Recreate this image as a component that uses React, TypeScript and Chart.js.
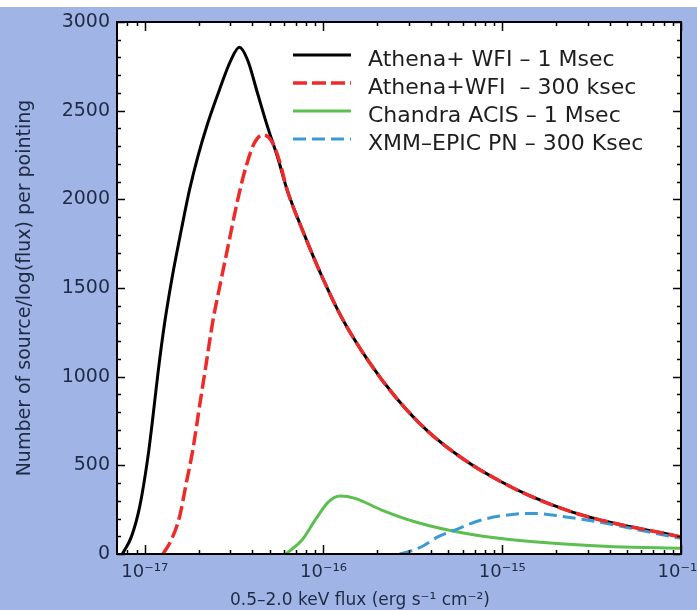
import React, { useEffect, useRef } from 'react';
import { Chart, registerables } from 'chart.js';

Chart.register(...registerables);

const FONT = '"DejaVu Sans", "Liberation Sans", sans-serif';
const AXIS_TEXT = '#1f2a44';
const LEGEND_TEXT = '#1e1e1e';
const PAGE_BG = '#a0b5e6';

// Axis ranges and ticks
const X_MIN = 7.26e-18;
const X_MAX = 1e-14;
const Y_MIN = 0;
const Y_MAX = 3000;
const X_TICK_VALUES = [1e-17, 1e-16, 1e-15, 1e-14];
const X_TICK_LABELS = ['10⁻¹⁷', '10⁻¹⁶', '10⁻¹⁵', '10⁻¹⁴'];
const Y_TICK_VALUES = [0, 500, 1000, 1500, 2000, 2500, 3000];
const Y_TICK_LABELS = ['0', '500', '1000', '1500', '2000', '2500', '3000'];

const X_TITLE = '0.5–2.0 keV flux (erg s⁻¹ cm⁻²)';
const Y_TITLE = 'Number of source/log(flux) per pointing';

const SERIES_LABELS = [
  'Athena+ WFI – 1 Msec',
  'Athena+WFI  – 300 ksec',
  'Chandra ACIS – 1 Msec',
  'XMM–EPIC PN – 300 Ksec',
];

// Athena+ WFI 1 Msec
const athena1MsFlux = [7.5e-18, 8.432e-18, 9.378e-18, 1.043e-17, 1.112e-17, 1.186e-17, 1.292e-17, 1.438e-17, 1.602e-17, 1.781e-17, 1.981e-17, 2.252e-17, 2.617e-17, 3.041e-17, 3.382e-17, 3.763e-17, 4.278e-17, 4.863e-17, 5.528e-17, 6.266e-17, 7.762e-17, 9.817e-17, 1.268e-16, 1.786e-16, 2.564e-16, 3.855e-16, 6.166e-16, 9.462e-16, 1.39e-15, 2.421e-15, 4.227e-15, 8.017e-15, 1e-14];
const athena1MsCount = [0, 98, 267, 549, 774, 1019, 1301, 1583, 1827, 2053, 2240, 2429, 2617, 2786, 2857, 2786, 2598, 2410, 2240, 2053, 1808, 1564, 1331, 1088, 878, 690, 530, 417, 333, 239, 173, 117, 96];

// Athena+ WFI 300 ksec
const athena300ksFlux = [1.265e-17, 1.408e-17, 1.567e-17, 1.708e-17, 1.858e-17, 2.025e-17, 2.207e-17, 2.402e-17, 2.675e-17, 2.975e-17, 3.311e-17, 3.687e-17, 4.101e-17, 4.561e-17, 5.08e-17, 5.651e-17, 6.266e-17, 7.762e-17, 9.817e-17, 1.268e-16, 1.786e-16, 2.564e-16, 3.855e-16, 6.166e-16, 9.462e-16, 1.39e-15, 2.421e-15, 4.227e-15, 8.017e-15, 1e-14];
const athena300ksCount = [0, 79, 210, 399, 586, 831, 1071, 1309, 1545, 1771, 1996, 2184, 2316, 2363, 2335, 2222, 2053, 1808, 1564, 1331, 1088, 878, 690, 530, 417, 333, 239, 173, 117, 96];

// Chandra ACIS 1 Msec
const chandraFlux = [6.18e-17, 6.397e-17, 7.586e-17, 8.995e-17, 1.069e-16, 1.242e-16, 1.503e-16, 2.118e-16, 3.243e-16, 4.977e-16, 7.638e-16, 1.17e-15, 2.223e-15, 4.227e-15, 1e-14];
const chandraCount = [0, 13, 79, 192, 295, 327, 314, 248, 182, 135, 102, 79, 56, 41, 32];

// XMM-EPIC PN 300 Ksec
const xmmFlux = [2.667e-16, 2.985e-16, 3.54e-16, 4.385e-16, 5.42e-16, 7.638e-16, 1.17e-15, 1.514e-15, 2.223e-15, 3.412e-15, 5.236e-15, 8.017e-15, 1e-14];
const xmmCount = [0, 13, 41, 98, 135, 192, 224, 229, 210, 182, 145, 107, 88];

const toPoints = (xs: number[], ys: number[]) => xs.map((x, i) => ({ x, y: ys[i] }));

const backgroundPlugin = {
  id: 'pageBackground',
  beforeDraw(chart: any) {
    const { ctx, width, height, chartArea } = chart;
    ctx.save();
    ctx.fillStyle = '#ffffff';
    ctx.fillRect(0, 0, width, height);
    ctx.fillStyle = PAGE_BG;
    ctx.fillRect(0, 7, width, height - 7);
    ctx.fillStyle = '#ffffff';
    ctx.fillRect(chartArea.left, chartArea.top, chartArea.right - chartArea.left, chartArea.bottom - chartArea.top);
    ctx.restore();
  },
};

const framePlugin = {
  id: 'frameTicks',
  afterDatasetsDraw(chart: any) {
    const { ctx, chartArea, scales } = chart;
    const { left, right, top, bottom } = chartArea;
    const xs = scales.x;
    const ys = scales.y;
    ctx.save();
    ctx.strokeStyle = '#000';
    ctx.lineWidth = 1.5;
    const seg = (x1: number, y1: number, x2: number, y2: number) => {
      ctx.beginPath();
      ctx.moveTo(x1, y1);
      ctx.lineTo(x2, y2);
      ctx.stroke();
    };
    for (let v = Y_MIN; v <= Y_MAX; v += 100) {
      const py = Math.round(ys.getPixelForValue(v)) + 0.5;
      const len = v % 500 === 0 ? 8 : 4;
      seg(left, py, left + len, py);
      seg(right, py, right - len, py);
    }
    for (let e = -18; e <= -14; e++) {
      for (let k = 1; k <= 9; k++) {
        const v = k * Math.pow(10, e);
        if (v < X_MIN || v > X_MAX * 1.0001) continue;
        const px = Math.round(xs.getPixelForValue(v)) + 0.5;
        const len = k === 1 ? 9 : 4;
        seg(px, bottom, px, bottom - len);
        seg(px, top, px, top + len);
      }
    }
    ctx.lineWidth = 2;
    ctx.strokeRect(left, top, right - left, bottom - top);
    ctx.restore();
  },
};

const legendPlugin = {
  id: 'insetLegend',
  afterDraw(chart: any) {
    const { ctx, chartArea } = chart;
    ctx.save();
    ctx.font = `22px ${FONT}`;
    ctx.textAlign = 'left';
    ctx.textBaseline = 'alphabetic';
    chart.data.datasets.forEach((ds: any, i: number) => {
      const y = chartArea.top + 33 + i * 28;
      const x0 = chartArea.left + 176;
      const x1 = chartArea.left + 234;
      ctx.strokeStyle = ds.borderColor;
      ctx.lineWidth = ds.borderWidth;
      ctx.setLineDash(ds.borderDash || []);
      ctx.beginPath();
      ctx.moveTo(x0, y);
      ctx.lineTo(x1, y);
      ctx.stroke();
      ctx.setLineDash([]);
      ctx.fillStyle = LEGEND_TEXT;
      ctx.fillText(ds.label, chartArea.left + 251, y + 11);
    });
    // x axis title
    ctx.font = `17px ${FONT}`;
    ctx.fillStyle = AXIS_TEXT;
    ctx.textAlign = 'center';
    ctx.fillText(X_TITLE, 360, 605);
    ctx.restore();
  },
};

export default function App() {
  const ref = useRef<HTMLCanvasElement>(null);
  useEffect(() => {
    document.body.style.margin = '0';
    const canvas = ref.current as HTMLCanvasElement;
    const chart = new Chart(canvas, {
      type: 'line',
      data: {
        datasets: [
          {
            label: SERIES_LABELS[0],
            data: toPoints(athena1MsFlux, athena1MsCount),
            borderColor: '#000000',
            borderWidth: 3,
            order: 4,
          },
          {
            label: SERIES_LABELS[1],
            data: toPoints(athena300ksFlux, athena300ksCount),
            borderColor: '#ee2b2b',
            borderWidth: 3.5,
            borderDash: [14, 5],
            order: 1,
          },
          {
            label: SERIES_LABELS[2],
            data: toPoints(chandraFlux, chandraCount),
            borderColor: '#5cbf4f',
            borderWidth: 3,
            order: 3,
          },
          {
            label: SERIES_LABELS[3],
            data: toPoints(xmmFlux, xmmCount),
            borderColor: '#3b9ad4',
            borderWidth: 3,
            borderDash: [13, 6],
            order: 2,
          },
        ] as any,
      },
      options: {
        animation: false,
        responsive: false,
        devicePixelRatio: 1,
        layout: { padding: { top: 22, right: 16, left: 0, bottom: 0 } },
        elements: {
          point: { radius: 0 },
          line: { cubicInterpolationMode: 'monotone', fill: false, borderCapStyle: 'butt', borderJoinStyle: 'round' },
        },
        plugins: {
          legend: { display: false },
          tooltip: { enabled: false },
        },
        scales: {
          x: {
            type: 'logarithmic',
            min: X_MIN,
            max: X_MAX,
            grid: { display: false, drawTicks: false },
            border: { display: false },
            afterBuildTicks: (s: any) => {
              s.ticks = X_TICK_VALUES.map((v) => ({ value: v }));
            },
            ticks: {
              autoSkip: false,
              maxRotation: 0,
              padding: 8,
              color: AXIS_TEXT,
              font: { family: FONT, size: 18 },
              callback: (_v: any, i: number) => X_TICK_LABELS[i],
            },
            afterFit: (s: any) => {
              s.height = 56;
              s.paddingLeft = 0;
              s.paddingRight = 0;
            },
          },
          y: {
            type: 'linear',
            min: Y_MIN,
            max: Y_MAX,
            grid: { display: false, drawTicks: false },
            border: { display: false },
            afterBuildTicks: (s: any) => {
              s.ticks = Y_TICK_VALUES.map((v) => ({ value: v }));
            },
            ticks: {
              padding: 7,
              color: AXIS_TEXT,
              font: { family: FONT, size: 19 },
              callback: (_v: any, i: number) => Y_TICK_LABELS[i],
            },
            title: {
              display: true,
              text: Y_TITLE,
              color: AXIS_TEXT,
              font: { family: FONT, size: 19 },
              padding: { top: 14, bottom: 0 },
            },
            afterFit: (s: any) => {
              s.width = 117;
              s.paddingTop = 0;
              s.paddingBottom = 0;
            },
          },
        },
      } as any,
      plugins: [backgroundPlugin, framePlugin, legendPlugin],
    });
    return () => chart.destroy();
  }, []);
  return <canvas ref={ref} width={697} height={610} style={{ display: 'block', width: 697, height: 610 }} />;
}
